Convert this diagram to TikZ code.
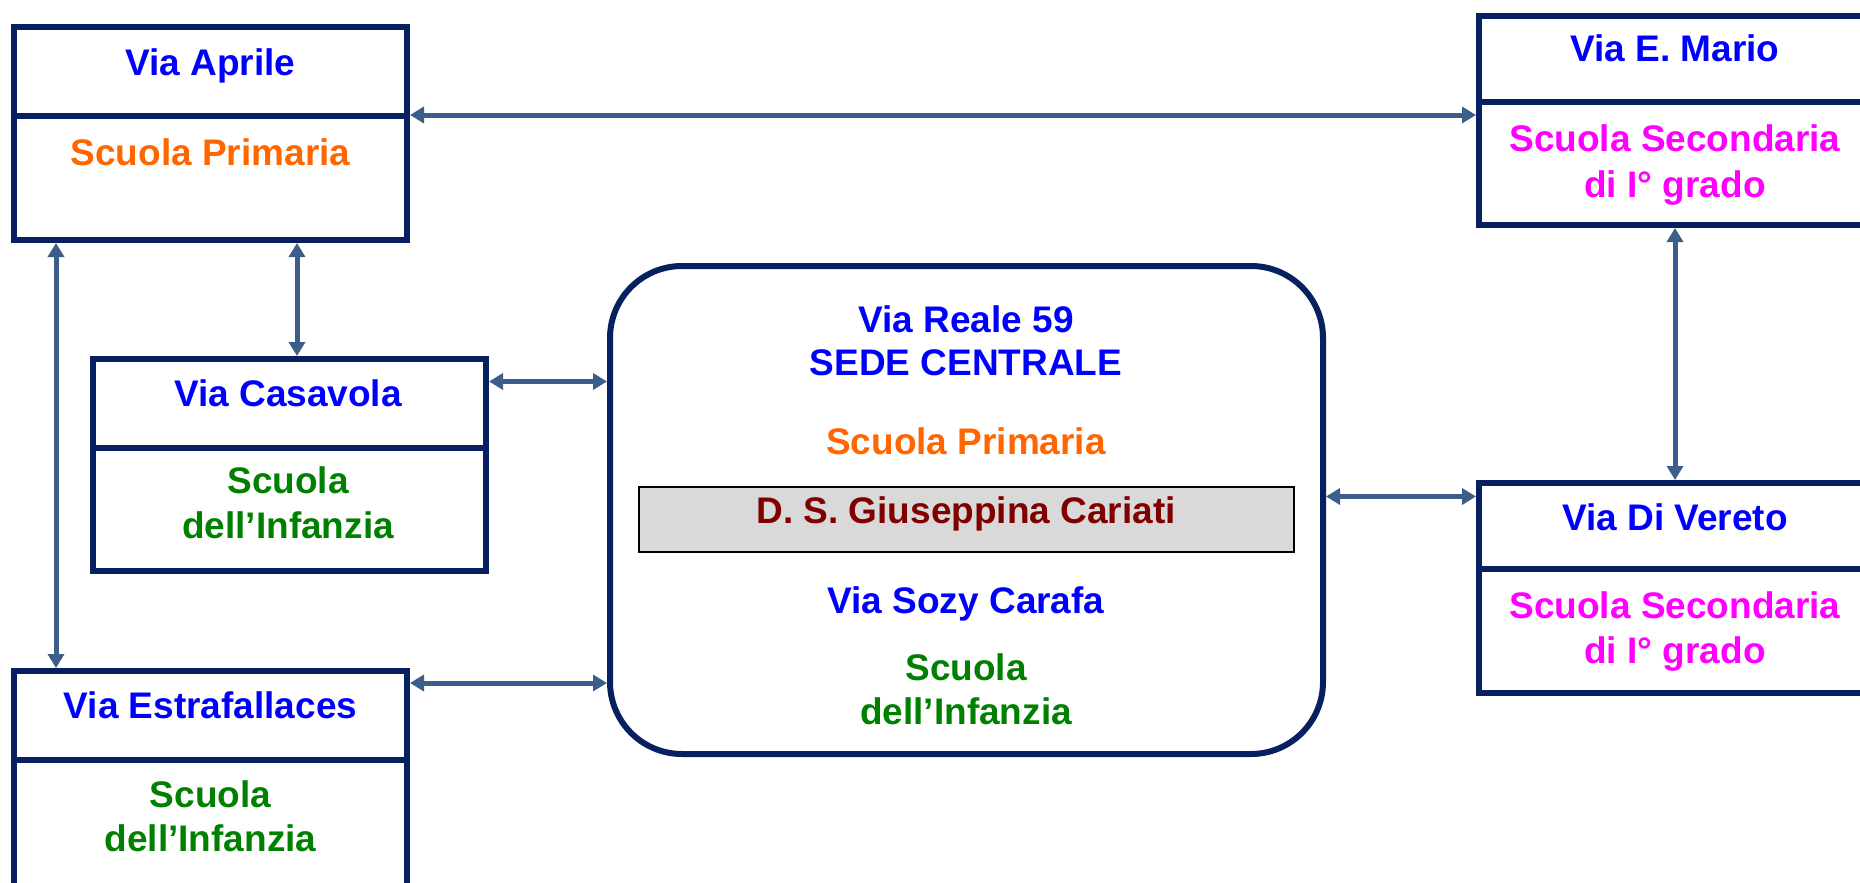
\documentclass[tikz,border=0pt]{standalone}
\usepackage{fontspec}
\setmainfont{Liberation Sans}
\usetikzlibrary{arrows.meta}
\definecolor{navy}{RGB}{6,32,96}
\definecolor{linkblue}{RGB}{59,94,138}
\definecolor{viablue}{RGB}{0,0,255}
\definecolor{primorange}{RGB}{255,102,0}
\definecolor{secmagenta}{RGB}{255,0,255}
\definecolor{infgreen}{RGB}{0,128,0}
\definecolor{dsred}{RGB}{128,0,0}
\definecolor{dsgray}{RGB}{217,217,217}

\begin{document}
\begin{tikzpicture}[x=1pt,y=-1pt,
  box/.style={draw=navy, line width=6pt, inner sep=0pt, anchor=north west},
  dsbox/.style={draw=black, fill=dsgray, line width=2pt, inner sep=0pt, anchor=north west},
  link/.style={draw=linkblue, line width=5pt, >={Triangle[length=14pt,width=16pt]}, <->},
  txt/.style={anchor=base, inner sep=0pt, font=\bfseries\fontsize{37pt}{43pt}\selectfont}]
\useasboundingbox (0,0) rectangle (1860,883);

\node[box, minimum width=393pt, minimum height=89pt] (aprileH) at (11,24) {};
\node[box, minimum width=393pt, minimum height=124pt] (aprileB) at (11,113) {};
\node[box, minimum width=393pt, minimum height=89pt] (casavolaH) at (90,356) {};
\node[box, minimum width=393pt, minimum height=123pt] (casavolaB) at (90,445) {};
\node[box, minimum width=393pt, minimum height=89pt] (estraH) at (11,668) {};
\node[box, minimum width=393pt, minimum height=150pt] (estraB) at (11,757) {};
\node[box, minimum width=392pt, minimum height=86pt] (marioH) at (1476,13) {};
\node[box, minimum width=392pt, minimum height=123pt] (marioB) at (1476,99) {};
\node[box, minimum width=392pt, minimum height=86pt] (veretoH) at (1476,480) {};
\node[box, minimum width=392pt, minimum height=124pt] (veretoB) at (1476,566) {};
\node[box, rounded corners=72pt, minimum width=713pt, minimum height=488pt] (sede) at (607,263) {};
\node[dsbox, minimum width=655pt, minimum height=65pt] (ds) at (638,486) {};

\node[txt, text=viablue] (aprileVia) at (210.5,75) {Via Aprile};
\node[txt, text=primorange] (aprileScuola) at (210.5,165) {Scuola Primaria};
\node[txt, text=viablue] (casavolaVia) at (288,406) {Via Casavola};
\node[txt, text=infgreen] (casavolaScuola) at (288,493) {Scuola};
\node[txt, text=infgreen] (casavolaInf) at (288,538) {dell’Infanzia};
\node[txt, text=viablue] (estraVia) at (210.5,718) {Via Estrafallaces};
\node[txt, text=infgreen] (estraScuola) at (210.5,807) {Scuola};
\node[txt, text=infgreen] (estraInf) at (210.5,851) {dell’Infanzia};
\node[txt, text=viablue] (marioVia) at (1675,62) {Via E. Mario};
\node[txt, text=secmagenta] (marioScuola) at (1675,151) {Scuola Secondaria};
\node[txt, text=secmagenta] (marioGrado) at (1675,197) {di I° grado};
\node[txt, text=viablue] (veretoVia) at (1675,530) {Via Di Vereto};
\node[txt, text=secmagenta] (veretoScuola) at (1675,618) {Scuola Secondaria};
\node[txt, text=secmagenta] (veretoGrado) at (1675,663) {di I° grado};
\node[txt, text=viablue] (sedeVia) at (966,332) {Via Reale 59};
\node[txt, text=viablue] (sedeCentrale) at (966,375) {SEDE CENTRALE};
\node[txt, text=primorange] (sedePrimaria) at (966,454) {Scuola Primaria};
\node[txt, text=dsred] (dsName) at (966,523) {D. S. Giuseppina Cariati};
\node[txt, text=viablue] (sozyVia) at (966,613) {Via Sozy Carafa};
\node[txt, text=infgreen] (sozyScuola) at (966,680) {Scuola};
\node[txt, text=infgreen] (sozyInf) at (966,724) {dell’Infanzia};

\coordinate (aprileR) at ([yshift=-2pt]aprileB.north east);
\coordinate (aprileC) at ([xshift=86.5pt]aprileB.south);
\coordinate (aprileL) at ([xshift=-154.5pt]aprileB.south);
\coordinate (casavolaR) at ([yshift=22pt]casavolaH.east);
\coordinate (estraR) at ([yshift=-15pt]estraH.north east);
\coordinate (sedeR) at ([yshift=13.5pt]sede.east);
\draw[link] (aprileR) -- (aprileR -| marioB.west);
\draw[link] (aprileC) -- (aprileC |- casavolaH.north);
\draw[link] (aprileL) -- (aprileL |- estraH.north);
\draw[link] (casavolaR) -- (casavolaR -| sede.west);
\draw[link] (estraR) -- (estraR -| sede.west);
\draw[link] (sedeR) -- (sedeR -| veretoH.west);
\draw[link] (marioB.south) -- (veretoH.north);
\end{tikzpicture}
\end{document}
